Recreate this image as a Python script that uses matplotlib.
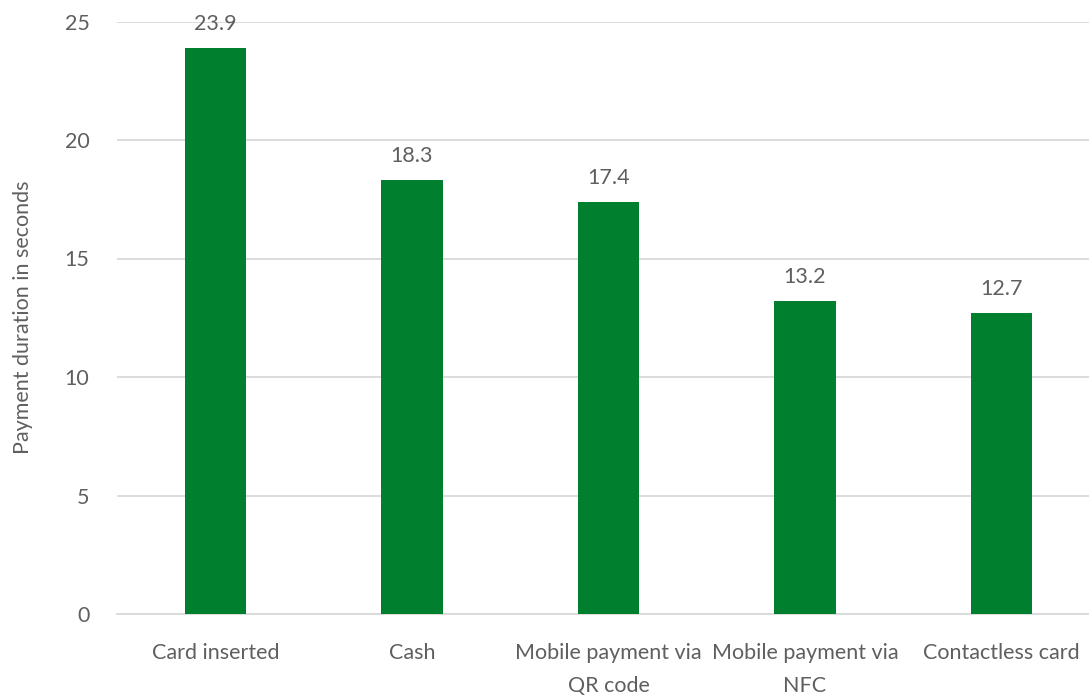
import matplotlib
matplotlib.use("Agg")
import matplotlib.pyplot as plt

categories = ["Card inserted", "Cash", "Mobile payment via\nQR code",
              "Mobile payment via\nNFC", "Contactless card"]
durations = [23.9, 18.3, 17.4, 13.2, 12.7]
y_ticks = [0, 5, 10, 15, 20, 25]

BAR_COLOR = "#007F2F"
TEXT_COLOR = "#5F5F5F"
GRID_COLOR = "#D9D9D9"
FS = 15.5

plt.rcParams["font.family"] = ["Lato", "DejaVu Sans"]

W, H = 1089, 698
fig = plt.figure(figsize=(W / 100, H / 100), dpi=100)
left, right = 117.25, 1099.75
top, bottom = 21.5, 614
ax = fig.add_axes([left / W, 1 - bottom / H, (right - left) / W, (bottom - top) / H])

x = range(len(categories))
ax.bar(x, durations, width=0.315, color=BAR_COLOR, zorder=3)

for xi, v in zip(x, durations):
    ax.annotate(f"{v:.1f}", (xi, v), xytext=(0, 10), textcoords="offset points",
                ha="center", va="bottom", fontsize=FS, color=TEXT_COLOR)

ax.set_xlim(-0.5, len(categories) - 0.5)
ax.set_ylim(0, 25)
ax.set_yticks(y_ticks)
ax.set_yticklabels([str(t) for t in y_ticks])
ax.set_xticks(list(x))
ax.set_xticklabels(categories, linespacing=1.8)

ax.grid(axis="y", color=GRID_COLOR, linewidth=1.3, zorder=0)
for s in ["top", "right", "left"]:
    ax.spines[s].set_visible(False)
ax.spines["bottom"].set_color(GRID_COLOR)
ax.spines["bottom"].set_linewidth(1.3)

ax.tick_params(axis="both", length=0, labelsize=FS, labelcolor=TEXT_COLOR)
ax.tick_params(axis="y", pad=20)
ax.tick_params(axis="x", pad=21)

ax.set_ylabel("Payment duration in seconds", fontsize=FS, color=TEXT_COLOR,
              labelpad=23)

fig.savefig("out.png", dpi=100)
